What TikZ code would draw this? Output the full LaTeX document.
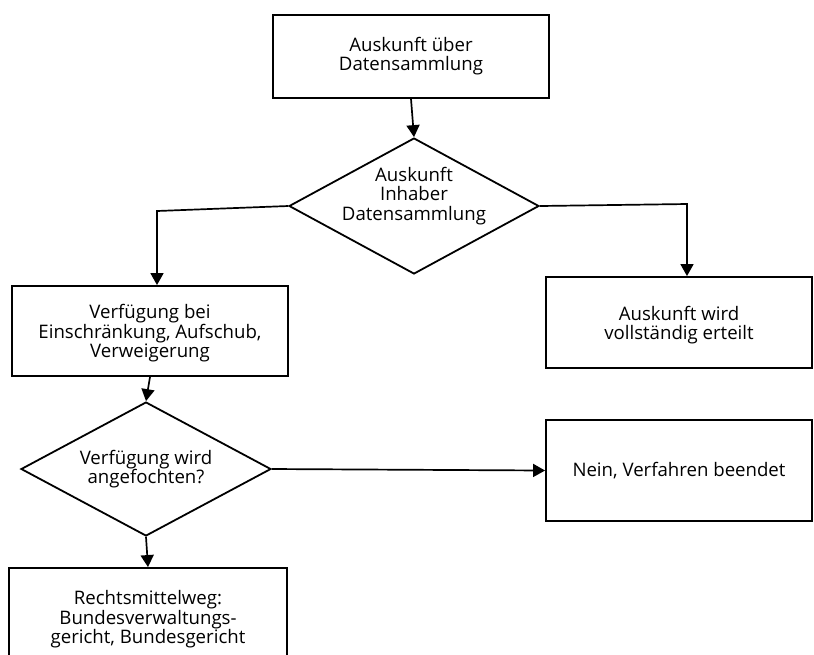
\documentclass[tikz,border=0pt]{standalone}
\usepackage{fontspec}
\setmainfont{Open Sans}
\usetikzlibrary{shapes.geometric,arrows.meta}
\tikzset{
  box/.style={draw, line width=0.038cm, align=center, inner sep=0pt},
  lowered/.style={text depth=#1},
  decision/.style={diamond, draw, line width=0.036cm, align=center, inner sep=0pt, aspect=1.84},
  flow/.style={line width=0.034cm, -{Triangle[length=0.24cm,width=0.26cm]}}
}
\begin{document}
\begin{tikzpicture}[x=0.02cm, y=-0.02cm]
                            \useasboundingbox (0,0) rectangle (814,654);
                            {\fontsize{10.6}{10.9}\selectfont

                            % Drawing box info
                            \node [box, minimum width=5.52cm, minimum height=1.66cm] (info) at (411.000000,56.500000) {Auskunft über\\Datensammlung};%

                            % Drawing decision holder, its text a little above the middle
                            \node [decision, minimum width=5.00cm, minimum height=2.72cm] (holder) at (414.000000,206.000000) {};%
                            \node [align=center, inner sep=0pt] (holdertext) at (414.000000,196.000000) {Auskunft\\Inhaber\\Datensammlung};%

                            % Drawing box order
                            \node [box, lowered=-0.24cm, minimum width=5.52cm, minimum height=1.80cm] (order) at (150.000000,331.000000) {Verfügung bei\\Einschränkung, Aufschub,\\Verweigerung};%

                            % Drawing box granted
                            \node [box, lowered=-0.20cm, minimum width=5.32cm, minimum height=1.82cm] (granted) at (679.000000,322.500000) {Auskunft wird\\vollständig erteilt};%

                            % Drawing decision contested
                            \node [decision, minimum width=5.00cm, minimum height=2.68cm] (contested) at (146.000000,469.000000) {Verfügung wird\\angefochten?};%

                            % Drawing box closed
                            \node [box, minimum width=5.32cm, minimum height=2.02cm] (closed) at (679.000000,470.500000) {Nein, Verfahren beendet};%

                            % Drawing box appeal
                            \node [box, lowered=-0.36cm, minimum width=5.56cm, minimum height=1.96cm] (appeal) at (148.000000,617.000000) {Rechtsmittelweg:\\Bundesverwaltungs-\\gericht, Bundesgericht};%

                            % Marking bends
                            \coordinate (bendl) at (157.000000,211.000000);%
                            \coordinate (bendr) at (687.000000,204.000000);%

                            % Drawing connectors
                            \draw [flow] (info.south) -- (holder.north);%
                            \draw [flow] (holder.west) -- (bendl) -- (bendl |- order.north);%
                            \draw [flow] (holder.east) -- (bendr) -- (bendr |- granted.north);%
                            \draw [flow] (order.south) -- (contested.north);%
                            \draw [flow] (contested.south) -- (appeal.north);%
                            \draw [flow] (contested.east) -- (closed.west);%
                            }
                        \end{tikzpicture}
\end{document}
